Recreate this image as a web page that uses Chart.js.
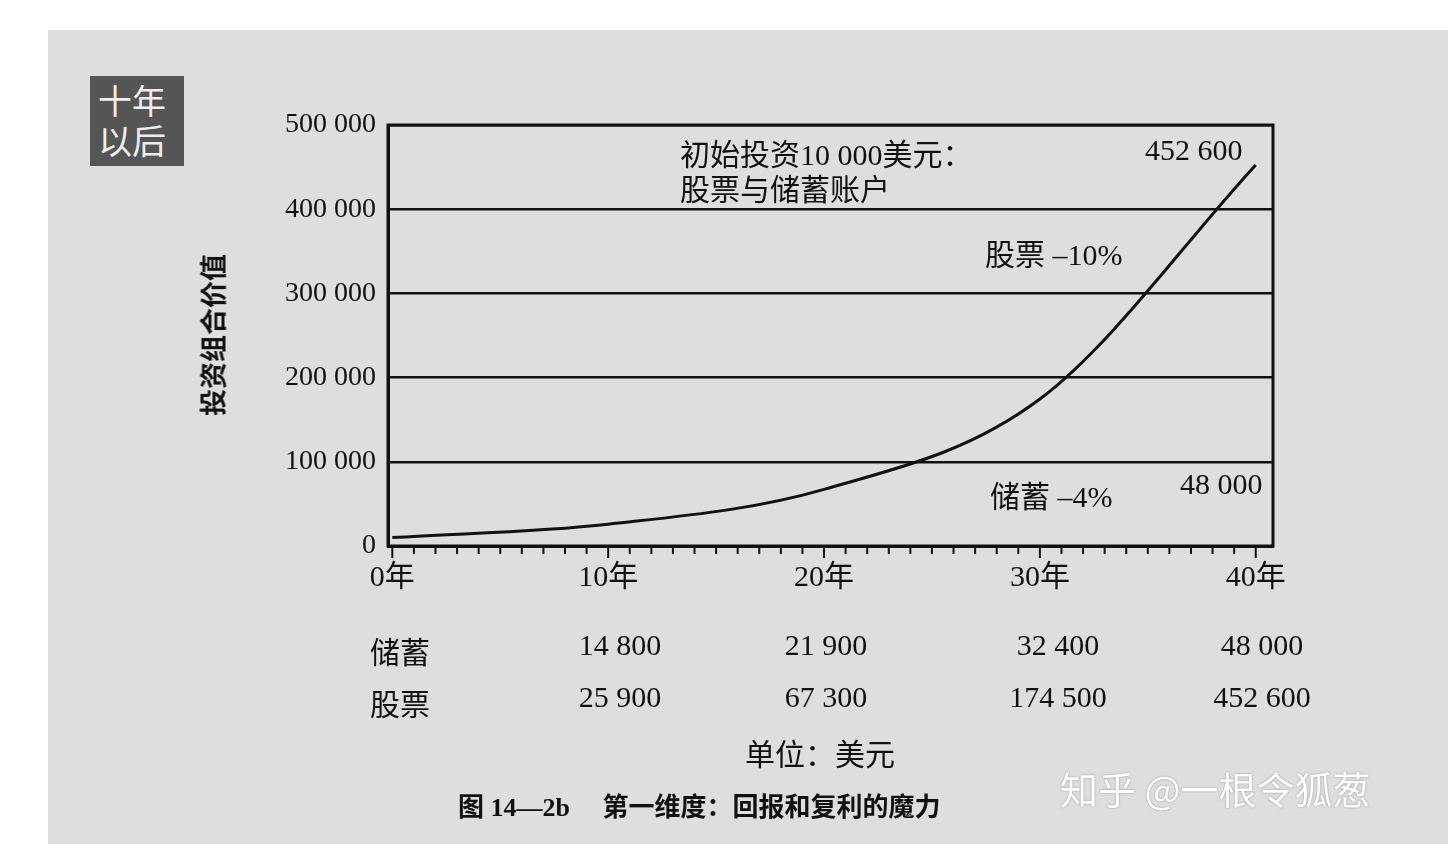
<!DOCTYPE html>
<html><head><meta charset="utf-8">
<script src="https://cdn.jsdelivr.net/npm/chart.js@4"></script>
<style>
body{margin:0;width:1448px;height:844px;background:#fff;position:relative;overflow:hidden;font-family:"Liberation Serif","Noto Sans CJK SC",serif;color:#111}
#bg{position:absolute;left:48px;top:30px;width:1400px;height:814px;background:#dedede}
#cw{position:absolute;left:0;top:0;width:1448px;height:844px}
.t{position:absolute;white-space:nowrap;font-size:30px}
#box{position:absolute;left:90px;top:76px;width:94px;height:90px;background:#555;color:#eee;font-family:"Noto Sans CJK SC";font-size:34px;line-height:40px;padding:4px 0 0 8px;box-sizing:border-box}
</style></head><body>
<div id="bg"></div>
<div id="box">十年<br>以后</div>
<div id="cw"><canvas id="c" width="1448" height="844"></canvas></div>
<div class="t" style="left:212px;top:335px;transform:translate(-50%,-50%) rotate(-90deg);font-family:'Noto Sans CJK SC';font-size:27px;font-weight:bold">投资组合价值</div>
<div id="tbl"></div>
<div class="t" style="left:745px;top:730px;font-family:'Liberation Serif','Noto Sans CJK SC'">单位：美元</div>
<div class="t" style="left:458px;top:786px;font-size:26px;font-weight:bold;font-family:'Liberation Serif','Noto Sans CJK SC'">图 14—2b　 第一维度：回报和复利的魔力</div>
<div class="t" style="left:1060px;top:760px;color:#fff;font-family:'Noto Sans CJK SC';font-size:38px;text-shadow:0 0 2px #888">知乎 @一根令狐葱</div>
<script>
const years=[0,10,20,30,40];
const savings=[10000,14800,21900,32400,48000];
const stocks=[10000,25900,67300,174500,452600];
const yTicks=[0,100000,200000,300000,400000,500000];
const tableCols=[620,826,1058,1262];
const tbl=document.getElementById('tbl');
let h='<div class="t" style="left:370px;top:628px;font-family:\'Noto Sans CJK SC\'">储蓄</div><div class="t" style="left:370px;top:680px;font-family:\'Noto Sans CJK SC\'">股票</div>';
const f=v=>v.toLocaleString('en').replace(/,/g,' ');
for(let i=1;i<5;i++){
 h+=`<div class="t" style="left:${tableCols[i-1]}px;top:628px;transform:translateX(-50%)">${f(savings[i])}</div>`;
 h+=`<div class="t" style="left:${tableCols[i-1]}px;top:680px;transform:translateX(-50%)">${f(stocks[i])}</div>`;
}
tbl.innerHTML=h;
const fmt=v=>v===0?'0':f(v);
const ann={id:'ann',afterDraw(c){
 const x=c.scales.x,y=c.scales.y,ctx=c.ctx;ctx.save();ctx.fillStyle='#111';
 ctx.strokeStyle='#111';ctx.lineWidth=2;
 for(let i=0;i<=40;i++){const px=x.getPixelForValue(i);ctx.beginPath();ctx.moveTo(px,y.bottom);ctx.lineTo(px,y.bottom+(i%10?8:12));ctx.stroke();}
 ctx.font='30px "Liberation Serif","Noto Sans CJK SC"';
 ctx.fillText('初始投资10 000美元：',680,165);
 ctx.fillText('股票与储蓄账户',680,200);
 ctx.fillText('股票 –10%',985,265);
 ctx.fillText('储蓄 –4%',990,507);
 ctx.fillText('452 600',1145,160);
 ctx.fillText('48 000',1180,494);
 ctx.restore();}};
new Chart(document.getElementById('c'),{type:'scatter',
data:{datasets:[
 {data:years.map((v,i)=>({x:v,y:stocks[i]})),showLine:true,borderColor:'#111',borderWidth:3,pointRadius:0,cubicInterpolationMode:'monotone'},
 {data:years.map((v,i)=>({x:v,y:savings[i]})),showLine:true,borderColor:'rgba(17,17,17,0)',borderWidth:1,pointRadius:0,cubicInterpolationMode:'monotone'}]},
options:{responsive:false,animation:false,devicePixelRatio:1,
 layout:{padding:{left:0,right:175,top:125,bottom:242}},
 plugins:{legend:{display:false},tooltip:{enabled:false}},
 scales:{
 x:{type:'linear',min:-0.2,max:40.8,afterBuildTicks:a=>{a.ticks=years.map(v=>({value:v}))},
  ticks:{callback:v=>v+'年',color:'#111',font:{size:30,family:'"Liberation Serif","Noto Sans CJK SC"'},padding:6,maxRotation:0},
  grid:{display:false},border:{color:'#111',width:3}},
 y:{min:0,max:500000,afterBuildTicks:a=>{a.ticks=yTicks.map(v=>({value:v}))},afterFit:s=>{s.width=388},
  ticks:{callback:fmt,color:'#111',font:{size:28,family:'"Liberation Serif"'},padding:12},
  grid:{color:'#111',lineWidth:2.5,drawTicks:false},border:{color:'#111',width:3}}}},
plugins:[ann,{id:'fr',afterDraw(c){const a=c.chartArea,ctx=c.ctx;ctx.save();ctx.strokeStyle='#111';ctx.lineWidth=3;ctx.strokeRect(a.left,a.top,a.right-a.left,a.bottom-a.top);ctx.restore();}}]});
</script></body></html>
